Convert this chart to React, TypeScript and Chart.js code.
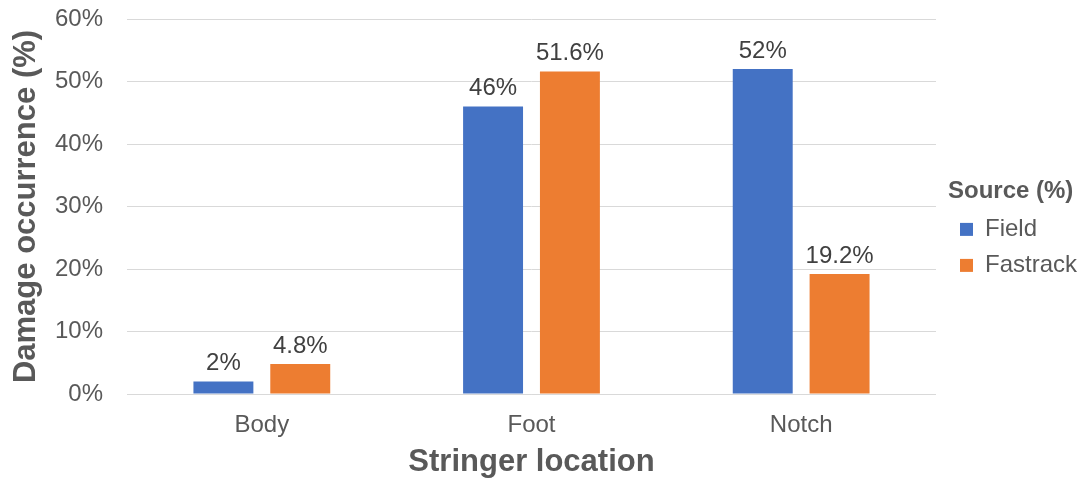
import React, { useEffect, useRef } from "react";
import { Chart, registerables } from "chart.js";

Chart.register(...registerables);

const categories = ["Body", "Foot", "Notch"];
const fieldValues = [2, 46, 52];
const fastrackValues = [4.8, 51.6, 19.2];
const fieldLabels = ["2%", "46%", "52%"];
const fastrackLabels = ["4.8%", "51.6%", "19.2%"];
const seriesNames = ["Field", "Fastrack"];

const FONT = "'Liberation Sans', Arial, sans-serif";

const barLabelPlugin = {
  id: "barLabels",
  afterDatasetsDraw(chart: any) {
    const ctx = chart.ctx;
    const labelSets = [fieldLabels, fastrackLabels];
    ctx.save();
    ctx.font = `24px ${FONT}`;
    ctx.fillStyle = "#404040";
    ctx.textAlign = "center";
    ctx.textBaseline = "bottom";
    chart.data.datasets.forEach((_ds: any, di: number) => {
      const meta = chart.getDatasetMeta(di);
      meta.data.forEach((bar: any, i: number) => {
        ctx.fillText(labelSets[di][i], bar.x, bar.y - 6);
      });
    });
    ctx.restore();
  },
};

const legendShiftPlugin = {
  id: "legendShift",
  afterLayout(chart: any) {
    const lg = chart.legend;
    if (!lg) return;
    lg.left += 12;
    lg.right += 12;
    lg.top -= 15;
    lg.bottom -= 15;
  },
};

export default function App() {
  const ref = useRef<HTMLCanvasElement>(null);
  useEffect(() => {
    document.body.style.margin = "0";
    const chart = new Chart(ref.current!, {
      type: "bar",
      data: {
        labels: categories,
        datasets: [
          { label: seriesNames[0], data: fieldValues, backgroundColor: "#4472C4" },
          { label: seriesNames[1], data: fastrackValues, backgroundColor: "#ED7D31" },
        ],
      },
      plugins: [barLabelPlugin, legendShiftPlugin],
      options: {
        responsive: false,
        animation: false,
        layout: { padding: { top: 19, left: 0, right: 4, bottom: 0 } },
        datasets: { bar: { categoryPercentage: 0.57, barPercentage: 0.78 } },
        plugins: {
          tooltip: { enabled: false },
          legend: {
            position: "right",
            align: "center",
            title: {
              display: true,
              text: "Source (%)",
              position: "start",
              color: "#595959",
              font: { family: FONT, size: 24, weight: "bold" },
              padding: { top: 0, bottom: -3 },
            },
            labels: {
              boxWidth: 13,
              boxHeight: 13,
              color: "#595959",
              padding: 12,
              font: { family: FONT, size: 24 },
            },
          },
        },
        scales: {
          x: {
            grid: { display: false },
            border: { display: true, color: "#d9d9d9" },
            ticks: { color: "#595959", font: { family: FONT, size: 24 }, padding: 9 },
            title: {
              display: true,
              text: "Stringer location",
              color: "#595959",
              font: { family: FONT, size: 31, weight: "bold" },
              padding: { top: 0, bottom: -1 },
            },
            afterFit(scale: any) {
              scale.height = 86;
            },
          },
          y: {
            min: 0,
            max: 60,
            grid: { color: "#d9d9d9", drawTicks: false },
            border: { display: false },
            ticks: {
              stepSize: 10,
              color: "#595959",
              font: { family: FONT, size: 24 },
              padding: 24,
              callback: (v: any) => v + "%",
            },
            title: {
              display: true,
              text: "Damage occurrence (%)",
              color: "#595959",
              font: { family: FONT, size: 31, weight: "bold" },
              padding: { top: 8, bottom: 0 },
            },
            afterFit(scale: any) {
              scale.width = 127;
              scale.paddingTop = 0;
            },
          },
        },
      },
    } as any);
    return () => chart.destroy();
  }, []);
  return <canvas ref={ref} width={1079} height={480} />;
}
